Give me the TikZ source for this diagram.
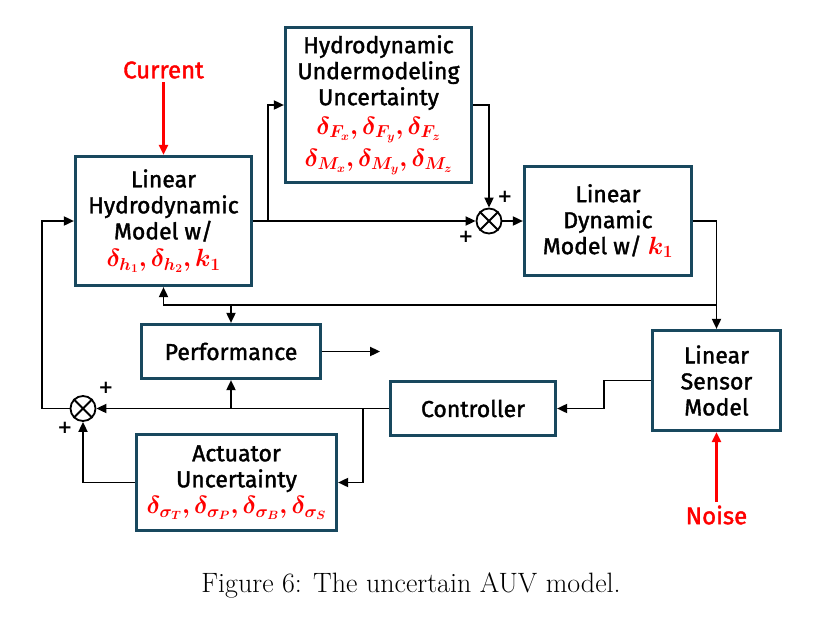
\documentclass[tikz,border=0pt]{standalone}
\usepackage{fontspec}
\usepackage{bm}
\usetikzlibrary{arrows.meta,calc}
\newfontfamily\comic{Fira Sans}[FakeBold=1.6]
\newfontfamily\plusfont{DejaVu Sans}
\definecolor{boxc}{RGB}{24,72,94}
\definecolor{sigred}{RGB}{255,0,0}
\newcommand{\rmath}[1]{\textcolor{sigred}{\fontsize{25}{26}\selectfont$\bm{#1}$}}
\begin{document}
\begin{tikzpicture}[x=1pt,y=-1pt,
  blk/.style={draw=boxc,line width=3.2pt,fill=white,align=center,inner sep=0pt,
    font=\comic\fontsize{23}{26}\selectfont},
  sumj/.style={circle,draw=black,line width=1.8pt,minimum size=25pt,inner sep=0pt},
  arr/.style={line width=1.8pt,-{Triangle[length=10pt,width=9pt]}},
  redarr/.style={draw=sigred,line width=2.2pt,-{Triangle[length=10pt,width=9pt]}},
  sig/.style={text=sigred,font=\comic\fontsize{24}{26}\selectfont},
  pm/.style={font=\plusfont\bfseries\fontsize{18}{18}\selectfont,inner sep=0pt}]
\useasboundingbox (0,0) rectangle (815,619);

% blocks
\node[blk,minimum width=176pt,minimum height=129pt] (hm) at (163.5,221)
  {Linear\\Hydrodynamic\\Model w/\\[1pt]\rmath{\delta_{h_1}, \delta_{h_2}, k_1}};
\node[blk,minimum width=186pt,minimum height=155pt] (hu) at (378.5,105)
  {Hydrodynamic\\Undermodeling\\Uncertainty\\[3pt]\rmath{\delta_{F_x}, \delta_{F_y}, \delta_{F_z}}\\[6pt]\rmath{\delta_{M_x}, \delta_{M_y}, \delta_{M_z}}};
\node[blk,minimum width=167pt,minimum height=109pt] (ld) at (608,221)
  {Linear\\Dynamic\\Model w/ \rmath{k_1}};
\node[blk,minimum width=179pt,minimum height=54pt] (perf) at (231,351.5) {Performance};
\node[blk,minimum width=200pt,minimum height=96pt] (act) at (236.5,482.5)
  {Actuator\\Uncertainty\\[0pt]\rmath{\delta_{\sigma_T}, \delta_{\sigma_P}, \delta_{\sigma_B}, \delta_{\sigma_S}}};
\node[blk,minimum width=165pt,minimum height=54pt] (ctrl) at (473,408.5) {Controller};
\node[blk,minimum width=128pt,minimum height=100pt] (sens) at (716.5,380.5)
  {Linear\\Sensor\\Model};

% summing junctions
\node[sumj] (s1) at (489,221) {};
\draw[line width=1.8pt] (s1.north east) -- (s1.south west) (s1.north west) -- (s1.south east);
\node[sumj] (s2) at (83,408.5) {};
\draw[line width=1.8pt] (s2.north east) -- (s2.south west) (s2.north west) -- (s2.south east);
\node[pm] (p1) at (505,197) {+};
\node[pm] (p2) at (466,237) {+};
\node[pm] (p3) at (106,388) {+};
\node[pm] (p4) at (65,428) {+};

% external inputs
\node[sig] (cur) at (163.5,70) {Current};
\node[sig] (noise) at (716.5,515) {Noise};
\draw[redarr] (cur.south) -- (hm.north);
\draw[redarr] (noise.north) -- (sens.south);

% forward path
\coordinate (b1) at (268,221);
\draw[arr] (hm.east) -- (s1.west);
\draw[arr] (b1) |- (hu.west);
\draw[arr] (hu.east) -| (s1.north);
\draw[arr] (s1.east) -- (ld.west);
\draw[arr] (ld.east) -| (sens.north);

% state feedback line
\coordinate (fb) at (716.5,305);
\coordinate (pj) at (perf.north |- fb);
\draw[arr] (fb) -| (hm.south);
\draw[arr] (pj) -- (perf.north);
\coordinate (pout) at ($(perf.east)+(58,0)$);
\draw[arr] (perf.east) -- (pout);

% measurement and control loop
\draw[arr] (sens.west) -- ++(-47,0) |- (ctrl.east);
\draw[arr] (ctrl.west) -- (s2.east);
\coordinate (cj) at (perf.south |- ctrl.west);
\draw[arr] (cj) -- (perf.south);
\coordinate (aj) at (363,408.5);
\draw[arr] (aj) |- (act.east);
\draw[arr] (act.west) -| (s2.south);
\coordinate (lc) at (42,408.5);
\draw[arr] (s2.west) -- (lc) |- (hm.west);

% caption
\node[font=\fontsize{28}{32}\selectfont] (cap) at (411,585) {Figure 6: The uncertain AUV model.};
\end{tikzpicture}
\end{document}
